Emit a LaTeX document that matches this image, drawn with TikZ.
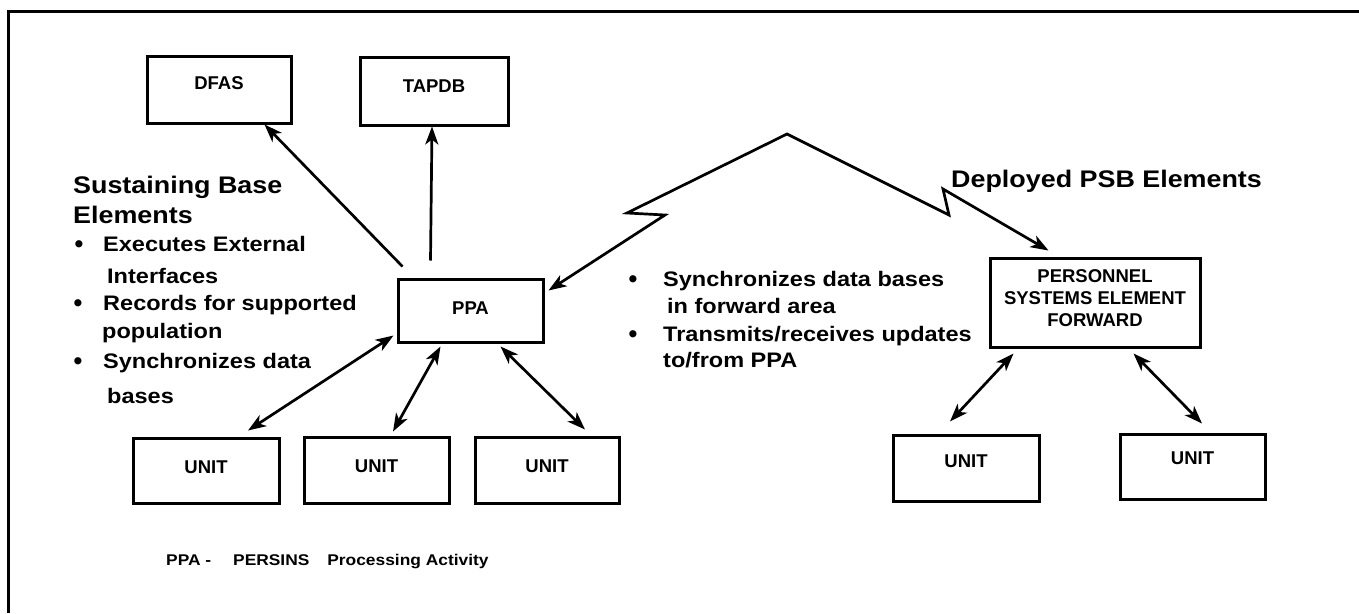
\documentclass[tikz,border=0pt]{standalone}
\usepackage{fontspec}
\setmainfont{Liberation Sans}
\newfontfamily\widesans{Liberation Sans}[FakeStretch=1.12]
\usetikzlibrary{arrows.meta,calc}
\tikzset{hd/.tip={Stealth[length=18pt,width=13pt,inset=5pt]}}
\begin{document}
\begin{tikzpicture}[x=1pt,y=-1pt,
  box/.style={draw,line width=3pt,inner sep=0pt,align=center,
    font=\fontsize{18.5}{22}\selectfont\bfseries},
  head/.style={anchor=base west,inner sep=0pt,
    font=\fontsize{24}{28}\selectfont\widesans\bfseries},
  link/.style={line width=2.7pt,-{hd}},
  both/.style={line width=2.7pt,{hd}-{hd}},
  item/.style={anchor=base west,inner sep=0pt,
    font=\fontsize{21}{25}\selectfont\widesans\bfseries},
  bul/.style={anchor=base,inner sep=0pt,
    font=\fontsize{25}{25}\selectfont\bfseries},
  note/.style={anchor=base west,inner sep=0pt,
    font=\fontsize{15.5}{18}\selectfont\widesans\bfseries},
]
\useasboundingbox (0,0) rectangle (1359,613);
\fill[white] (0,0) rectangle (1359,613);

% frame
\draw[line width=3pt] (8,613) -- (8,11) -- (1359,11);

% boxes
\node[box,minimum width=144pt,minimum height=67pt,text depth=13pt] (dfas) at (219,89.5) {DFAS};
\node[box,minimum width=148pt,minimum height=68pt,text depth=9pt] (tapdb) at (434,91) {TAPDB};
\node[box,minimum width=145pt,minimum height=63pt,text depth=4pt] (ppa) at (470.5,310.5) {PPA};
\node[box,minimum width=146pt,minimum height=65pt,text depth=6pt] (u1) at (206,470.5) {UNIT};
\node[box,minimum width=145pt,minimum height=66pt,text depth=8pt] (u2) at (376.5,470) {UNIT};
\node[box,minimum width=144pt,minimum height=66pt,text depth=8pt] (u3) at (547,470) {UNIT};
\node[box,minimum width=210pt,minimum height=89pt,text depth=8pt] (psef) at (1095,302.5)
  {PERSONNEL\\SYSTEMS ELEMENT\\FORWARD};
\node[box,minimum width=146pt,minimum height=66pt,text depth=14pt] (u4) at (966,468) {UNIT};
\node[box,minimum width=145pt,minimum height=65pt,text depth=17pt] (u5) at (1192.5,466.5) {UNIT};

% connectors from PPA to the external systems
\draw[link] ($(ppa.north west)+(6,-11)$) -- ($(dfas.south east)+(-28,0)$);
\draw[link] ($(ppa.north west)+(34,-17)$) -- ($(tapdb.south)+(-2,0)$);

% PPA to units
\draw[both] ($(ppa.south west)+(-3,-8)$) -- ($(u1.north)+(42,-6)$);
\draw[both] ($(ppa.south west)+(44,3)$) -- ($(u2.north)+(16.5,-4)$);
\draw[both] ($(ppa.south west)+(104,3)$) -- ($(u3.north)+(38,-6)$);

% forward element to units
\draw[both] ($(psef.south west)+(25,5)$) -- ($(u4.north)+(-16,-12)$);
\draw[both] ($(psef.south west)+(145,5)$) -- ($(u5.north)+(9.5,-9)$);

% radio link between PPA and the forward element
\coordinate (z1) at (665,215);
\coordinate (z2) at (627,213);
\coordinate (z3) at (787,134);
\coordinate (z4) at (949,215);
\coordinate (z5) at (943,189);
\draw[both,line join=miter] ($(ppa.north east)+(4,13)$) -- (z1) -- (z2) -- (z3) -- (z4) -- (z5)
  -- ($(psef.north west)+(60,-6)$);

% text on the sustaining base side
\node[head] (h1) at (73,193) {Sustaining Base};
\node[head] (h2) at (73,223) {Elements};
\node[bul] (b1) at (79,252) {\textbullet};
\node[item] (s1) at (103,251) {Executes External};
\node[item] (s2) at (107,283) {Interfaces};
\node[bul] (b2) at (78,311) {\textbullet};
\node[item] (s3) at (103,310) {Records for supported};
\node[item] (s4) at (102,338) {population};
\node[bul] (b3) at (78,369) {\textbullet};
\node[item] (s5) at (103,368) {Synchronizes data};
\node[item] (s6) at (107,403) {bases};

% text on the deployed side
\node[head] (h3) at (951,187) {Deployed PSB Elements};
\node[bul] (b4) at (633,287) {\textbullet};
\node[item] (d1) at (663,286) {Synchronizes data bases};
\node[item] (d2) at (667,313) {in forward area};
\node[bul] (b5) at (633,342) {\textbullet};
\node[item] (d3) at (663,341) {Transmits/receives updates};
\node[item] (d4) at (663,367) {to/from PPA};

% legend
\node[note] (leg) at (166,565) {PPA -\hspace{22pt}PERSINS\hspace{18pt}Processing Activity};
\end{tikzpicture}
\end{document}
